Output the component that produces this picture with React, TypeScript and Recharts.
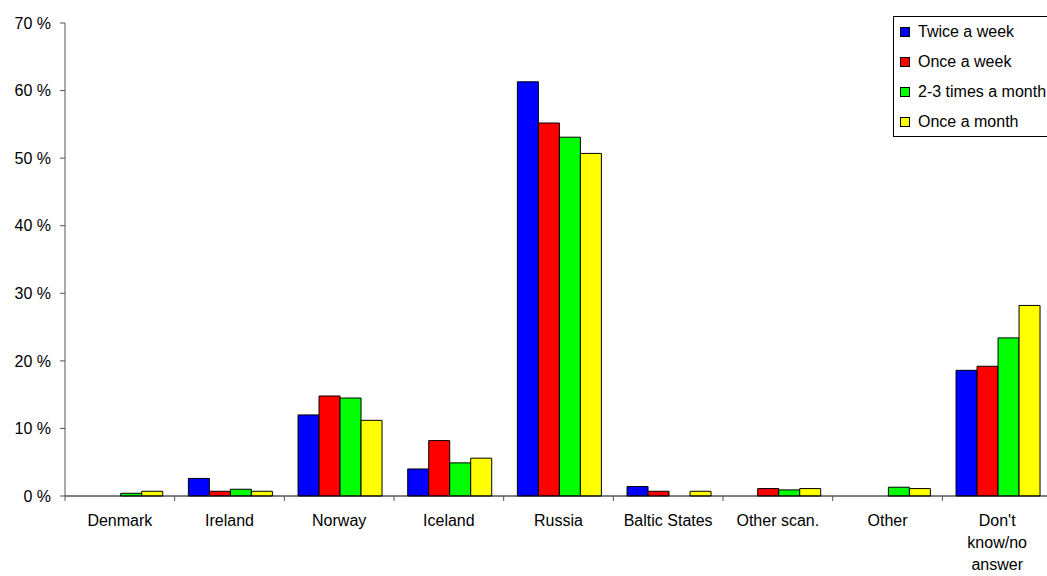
import React from "react";
import { BarChart, Bar, XAxis, YAxis, Legend } from "recharts";

const categories = ["Denmark", "Ireland", "Norway", "Iceland", "Russia", "Baltic States", "Other scan.", "Other", "Don't know/no answer"];
const tickLabels = [["Denmark"], ["Ireland"], ["Norway"], ["Iceland"], ["Russia"], ["Baltic States"], ["Other scan."], ["Other"], ["Don't", "know/no", "answer"]];
const twiceAWeek = [0, 2.6, 12.0, 4.0, 61.3, 1.4, 0, 0, 18.6];
const onceAWeek = [0, 0.7, 14.8, 8.2, 55.2, 0.7, 1.1, 0, 19.2];
const twoThreeMonth = [0.4, 1.0, 14.5, 4.9, 53.1, 0, 0.9, 1.3, 23.4];
const onceAMonth = [0.7, 0.7, 11.2, 5.6, 50.7, 0.7, 1.1, 1.1, 28.2];
const yTicks = [0, 10, 20, 30, 40, 50, 60, 70];

const seriesNames = ["Twice a week", "Once a week", "2-3 times a month", "Once a month"];
const seriesKeys = ["s0", "s1", "s2", "s3"];
const seriesColors = ["#0000FF", "#FF0000", "#00FF00", "#FFFF00"];

const data = categories.map((c, i) => ({
  name: c,
  s0: twiceAWeek[i],
  s1: onceAWeek[i],
  s2: twoThreeMonth[i],
  s3: onceAMonth[i],
}));

const FONT = "'Liberation Sans', Arial, sans-serif";
const CHART_W = 1060;
const CHART_H = 576;
const MARGIN = { top: 23, right: 8, bottom: 0, left: 0 };
const Y_W = 65;
const BAND = (CHART_W - MARGIN.left - MARGIN.right - Y_W) / categories.length;

const CatTick = (props: any) => {
  const { x, y, payload, index } = props;
  const half = payload && typeof payload.offset === "number" && payload.offset > 0 ? payload.offset : BAND / 2;
  const lines = tickLabels[index] || [String(payload.value)];
  const last = index === categories.length - 1;
  return (
    <g>
      <line x1={x - half} x2={x - half} y1={y} y2={y + 5} stroke="#555" strokeWidth={1} />
      {last && <line x1={x + half} x2={x + half} y1={y} y2={y + 5} stroke="#555" strokeWidth={1} />}
      {lines.map((l: string, k: number) => (
        <text key={k} x={x} y={y + 30 + k * 22} textAnchor="middle" fontFamily={FONT} fontSize={16} fill="#000">
          {l}
        </text>
      ))}
    </g>
  );
};

const LegendBox = () => (
  <div
    style={{
      border: "1px solid #000",
      background: "#fff",
      width: 170,
      height: 121,
      boxSizing: "border-box",
      padding: "0 0 0 6px",
      fontFamily: FONT,
      fontSize: 16,
    }}
  >
    {seriesNames.map((n, i) => (
      <div key={n} style={{ display: "flex", alignItems: "center", height: 30, whiteSpace: "nowrap" }}>
        <span
          style={{
            display: "inline-block",
            width: 8,
            height: 8,
            background: seriesColors[i],
            border: "1px solid #000",
            marginRight: 8,
          }}
        />
        <span>{n}</span>
      </div>
    ))}
  </div>
);

export default function App() {
  return (
    <div style={{ position: "absolute", left: 0, top: 0, width: 1047, height: 576, overflow: "hidden", background: "#fff" }}>
      <BarChart width={CHART_W} height={CHART_H} data={data} margin={MARGIN} barCategoryGap="12.5%" barGap={0}>
        <XAxis
          dataKey="name"
          axisLine={{ stroke: "#000" }}
          tickLine={false}
          tickSize={0}
          tickMargin={0}
          interval={0}
          tick={<CatTick />}
          height={80}
        />
        <YAxis
          width={Y_W}
          domain={[0, 70]}
          ticks={yTicks}
          interval={0}
          tickFormatter={(v: number) => `${v} %`}
          axisLine={{ stroke: "#555" }}
          tickLine={{ stroke: "#555" }}
          tickSize={5}
          tickMargin={9}
          tick={{ fontFamily: FONT, fontSize: 16, fill: "#000" }}
        />
        <Legend
          layout="vertical"
          align="center"
          verticalAlign="middle"
          wrapperStyle={{ position: "absolute", left: 893, top: 16, width: 170 }}
          content={() => <LegendBox />}
        />
        {seriesKeys.map((k, i) => (
          <Bar key={k} dataKey={k} name={seriesNames[i]} fill={seriesColors[i]} stroke="#000" strokeWidth={1} isAnimationActive={false} />
        ))}
      </BarChart>
    </div>
  );
}
